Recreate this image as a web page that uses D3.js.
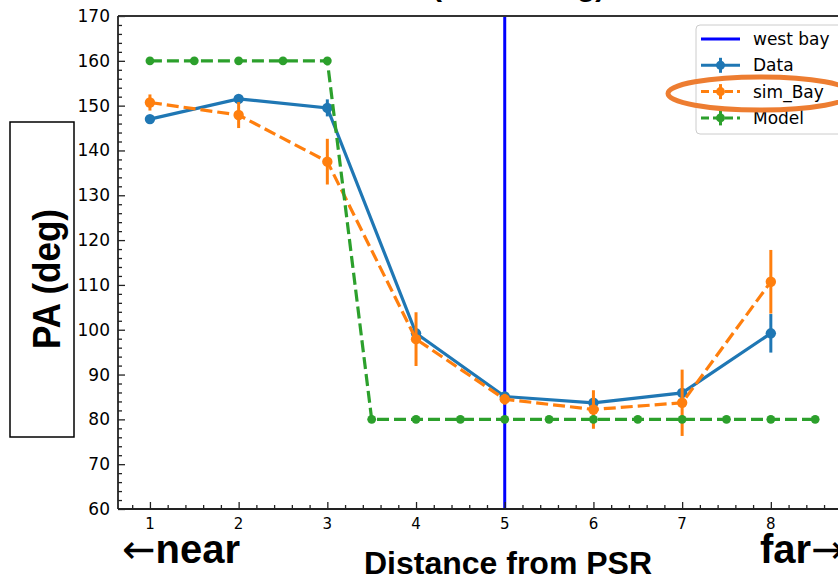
<!DOCTYPE html>
<html>
<head>
<meta charset="utf-8">
<script src="https://cdn.jsdelivr.net/npm/d3@7"></script>
<style>
  body { margin: 0; background: #fff; }
  svg { display: block; }
</style>
</head>
<body>
<svg id="chart"></svg>
<script>
// values
const positions = [1, 2, 3, 4, 5, 6, 7, 8];
const dataPA  = [147.0, 151.5, 149.5, 99.2, 85.1, 83.7, 85.9, 99.2];
const dataErr = [0.6, 0.6, 1.9, 0.8, 0.6, 0.6, 0.8, 4.3];
const simPA   = [150.7, 147.9, 137.5, 97.9, 84.5, 82.2, 83.7, 110.7];
const simErr  = [1.8, 2.9, 5.1, 6.0, 1.2, 4.3, 7.4, 7.1];
const modelPos = [1, 1.5, 2, 2.5, 3, 3.5, 4, 4.5, 5, 5.5, 6, 6.5, 7, 7.5, 8, 8.5];
const modelPA  = [160, 160, 160, 160, 160, 80, 80, 80, 80, 80, 80, 80, 80, 80, 80, 80];
const westBay = 5;
const xTicks = [1, 2, 3, 4, 5, 6, 7, 8];
const yTicks = [60, 70, 80, 90, 100, 110, 120, 130, 140, 150, 160, 170];
const legendNames = ["west bay", "Data", "sim_Bay", "Model"];

const W = 838, H = 577;
const margin = {top: 16, left: 118, bottom: 68};
const blue = "#1f77b4", orange = "#ff7f0e", green = "#2ca02c";

const svg = d3.select("#chart").attr("width", W).attr("height", H);

const x = d3.scaleLinear().domain([0.64, 9.0]).range([margin.left, margin.left + 8.36 * 88.7]);
const y = d3.scaleLinear().domain([60, 170]).range([H - margin.bottom, margin.top]);

// title, mostly cut off above the picture
svg.append("text")
    .attr("x", 432).attr("y", -4)
    .style("font-family", "Liberation Sans, Arial, sans-serif")
    .style("font-weight", "bold").style("font-size", "30px")
    .text("(smoothing)");

// west bay
svg.append("line")
    .attr("x1", x(westBay)).attr("x2", x(westBay))
    .attr("y1", y(170)).attr("y2", y(60))
    .attr("stroke", "#0000ff").attr("stroke-width", 3);

function series(xs, ys, errs, color, dash, r) {
    const g = svg.append("g");
    const line = d3.line().x((d, i) => x(xs[i])).y(d => y(d));
    g.append("path").datum(ys)
        .attr("d", line)
        .attr("fill", "none").attr("stroke", color)
        .attr("stroke-width", 3.2)
        .attr("stroke-dasharray", dash);
    if (errs) {
        g.selectAll(".err").data(ys).enter().append("line")
            .attr("x1", (d, i) => x(xs[i])).attr("x2", (d, i) => x(xs[i]))
            .attr("y1", (d, i) => y(d - errs[i])).attr("y2", (d, i) => y(d + errs[i]))
            .attr("stroke", color).attr("stroke-width", 3);
    }
    g.selectAll(".pt").data(ys).enter().append("circle")
        .attr("cx", (d, i) => x(xs[i])).attr("cy", d => y(d))
        .attr("r", r).attr("fill", color);
}

series(positions, dataPA, dataErr, blue, null, 5.2);
series(positions, simPA, simErr, orange, "12,5", 5.2);
series(modelPos, modelPA, null, green, "12,5", 4.4);

// axes, ticks pointing inward
const tickFont = "DejaVu Sans, sans-serif";
svg.append("g").attr("transform", `translate(0,${y(60)})`)
    .call(d3.axisTop(x).tickValues(xTicks).tickSize(7).tickFormat(""));
svg.append("g").attr("transform", `translate(0,${y(60)})`)
    .call(d3.axisTop(x).tickValues(d3.range(0.8, 9.0, 0.2).filter(v => Math.abs(v - Math.round(v)) > 0.01)).tickSize(4).tickFormat(""));
xTicks.forEach(t => {
    svg.append("text").attr("x", x(t)).attr("y", y(60) + 20)
        .attr("text-anchor", "middle")
        .style("font-family", tickFont).style("font-size", "15px")
        .text(t);
});
svg.append("g").attr("transform", `translate(${x(0.64)},0)`)
    .call(d3.axisRight(y).tickValues(yTicks).tickSize(7).tickFormat(""));
svg.append("g").attr("transform", `translate(${x(0.64)},0)`)
    .call(d3.axisRight(y).tickValues(d3.range(62, 170, 2).filter(v => v % 10 !== 0)).tickSize(4).tickFormat(""));
yTicks.forEach(t => {
    svg.append("text").attr("x", x(0.64) - 8).attr("y", y(t) + 6)
        .attr("text-anchor", "end")
        .style("font-family", tickFont).style("font-size", "17px")
        .text(t);
});
svg.selectAll(".domain").remove();
svg.selectAll(".tick line").attr("stroke", "#222").attr("stroke-width", 1.3);

// spines
svg.append("line").attr("x1", x(0.64)).attr("x2", W).attr("y1", y(170)).attr("y2", y(170))
    .attr("stroke", "#333").attr("stroke-width", 1.8);
svg.append("line").attr("x1", x(0.64)).attr("x2", W).attr("y1", y(60)).attr("y2", y(60))
    .attr("stroke", "#222").attr("stroke-width", 1.8);
svg.append("line").attr("x1", x(0.64)).attr("x2", x(0.64)).attr("y1", y(170)).attr("y2", y(60))
    .attr("stroke", "#222").attr("stroke-width", 1.8);

// legend
const leg = svg.append("g");
leg.append("rect").attr("x", 696).attr("y", 25).attr("width", 160).attr("height", 109)
    .attr("rx", 4).attr("fill", "#fff").attr("fill-opacity", 0.85)
    .attr("stroke", "#cccccc").attr("stroke-width", 1);
const legColors = ["#0000ff", blue, orange, green];
const legDash = [null, null, "8,4", "8,4"];
legendNames.forEach((name, i) => {
    const cy = 39 + i * 26.3;
    leg.append("line").attr("x1", 701).attr("x2", 740).attr("y1", cy).attr("y2", cy)
        .attr("stroke", legColors[i]).attr("stroke-width", 3)
        .attr("stroke-dasharray", legDash[i]);
    if (i > 0) {
        leg.append("line").attr("x1", 720.5).attr("x2", 720.5).attr("y1", cy - 7.5).attr("y2", cy + 7.5)
            .attr("stroke", legColors[i]).attr("stroke-width", 3);
        leg.append("circle").attr("cx", 720.5).attr("cy", cy).attr("r", 4.5).attr("fill", legColors[i]);
    }
    leg.append("text").attr("x", 753).attr("y", cy + 6)
        .style("font-family", tickFont).style("font-size", "17px")
        .text(name);
});

// highlight ring round sim_Bay
svg.append("ellipse").attr("cx", 760).attr("cy", 93.5).attr("rx", 92).attr("ry", 16.5)
    .attr("fill", "none").attr("stroke", "#ed7d31").attr("stroke-width", 5);

// y label in a box
svg.append("rect").attr("x", 10).attr("y", 122).attr("width", 64).attr("height", 315)
    .attr("fill", "none").attr("stroke", "#000").attr("stroke-width", 1.5);
svg.append("text")
    .attr("transform", "translate(60,279) rotate(-90)")
    .attr("text-anchor", "middle")
    .attr("textLength", 140).attr("lengthAdjust", "spacingAndGlyphs")
    .style("font-family", "Liberation Sans, Arial, sans-serif")
    .style("font-weight", "bold").style("font-size", "39px")
    .text("PA (deg)");

// bottom labels
const boldFont = "Liberation Sans, Arial, sans-serif";
const arrowFont = "DejaVu Sans, sans-serif";
const near = svg.append("text").attr("x", 122).attr("y", 563)
    .style("font-family", boldFont).style("font-weight", "bold").style("font-size", "40px");
near.append("tspan").style("font-family", arrowFont).style("font-weight", "normal").text("\u2190");
near.append("tspan").text("near");
svg.append("text").attr("x", 508).attr("y", 574)
    .attr("text-anchor", "middle")
    .style("font-family", boldFont).style("font-weight", "bold").style("font-size", "32px")
    .text("Distance from PSR");
const far = svg.append("text").attr("x", 760).attr("y", 563)
    .style("font-family", boldFont).style("font-weight", "bold").style("font-size", "40px");
far.append("tspan").text("far");
far.append("tspan").style("font-family", arrowFont).style("font-weight", "normal").text("\u2192");
</script>
</body>
</html>
